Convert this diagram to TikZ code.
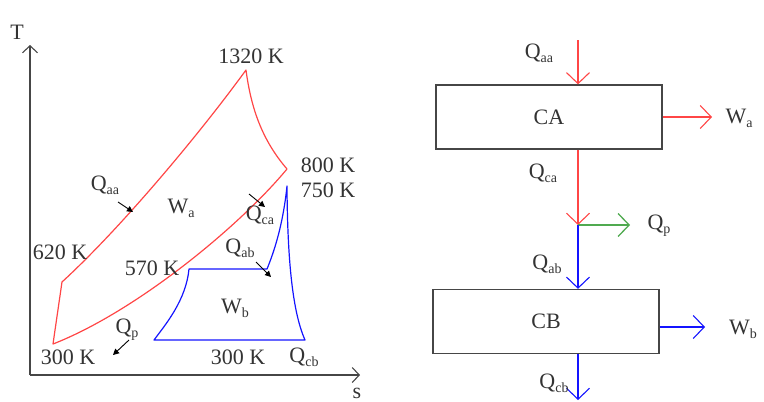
\documentclass[tikz,border=0pt]{standalone}
\usepackage{fontspec}
\setmainfont{Liberation Serif}
\usetikzlibrary{arrows.meta}
\newcommand\qs[2]{#1\raisebox{-0.4ex}{\fontsize{14}{14}\selectfont #2}}
\definecolor{cred}{RGB}{255,70,70}
\definecolor{cblue}{RGB}{20,20,255}
\definecolor{cgreen}{RGB}{80,170,80}
\definecolor{cgray}{RGB}{70,70,70}
\tikzset{
  lbl/.style={inner sep=0pt, font=\fontsize{22}{24}\selectfont, text=black!80},
  axisline/.style={cgray, line width=1.1pt, -{Straight Barb[length=7pt,width=15pt]}},
  redc/.style={cred, line width=1.2pt, line join=round},
  bluec/.style={cblue, line width=1.2pt, line join=round},
  smallarrow/.style={black, line width=0.9pt, -{Triangle[length=6pt,width=6pt]}},
  flowbox/.style={draw=cgray, line width=1.3pt, minimum width=226pt, minimum height=64pt, inner sep=0pt, font=\fontsize{22}{24}\selectfont, text=black!80},
  barb/.style={-{Straight Barb[length=11pt,width=23pt]}},
  redflow/.style={cred, line width=1.1pt},
  blueflow/.style={cblue, line width=1.1pt},
  greenflow/.style={cgreen, line width=1.3pt},
}
\begin{document}
\begin{tikzpicture}[x=1pt,y=-1pt]
\useasboundingbox (0,0) rectangle (764,402);
% axes
\coordinate (O) at (30,375);
\coordinate (Ttip) at (30,45);
\coordinate (stip) at (360,375);
\draw[axisline] (O) -- (Ttip);
\draw[axisline] (O) -- (stip);
\node[lbl] (T) at (17,32) {T};
\node[lbl] (s) at (357,393) {s};
% cycle A
\coordinate (A1) at (53,344);
\coordinate (A2) at (62,282);
\coordinate (A3) at (246,70);
\coordinate (A4) at (287,169);
\draw[redc] (A1) -- (A2) .. controls (122,227) and (201,132) .. (A3)
  .. controls (251,108) and (262,140) .. (A4)
  .. controls (238,228) and (135,312) .. (A1) -- cycle;
% cycle B
\coordinate (B1) at (154,340);
\coordinate (B2) at (189,269);
\coordinate (B3) at (267,269);
\coordinate (B4) at (287,186);
\coordinate (B5) at (305,340);
\draw[bluec] (B1) .. controls (166,324) and (186,300) .. (B2) -- (B3)
  .. controls (274,252) and (283,225) .. (B4)
  .. controls (287.5,270) and (294,315) .. (B5) -- cycle;
% labels on plot
\node[lbl] (k1320) at (251,56) {1320 K};
\node[lbl] (k800) at (328,165) {800 K};
\node[lbl] (k750) at (328,190) {750 K};
\node[lbl] (k620) at (60,252) {620 K};
\node[lbl] (k570) at (152,268) {570 K};
\node[lbl] (k300a) at (68,357) {300 K};
\node[lbl] (k300b) at (238,357) {300 K};
\node[lbl] (Qcb1) at (304,357) {\qs{Q}{cb}};
\node[lbl] (Qaa1) at (105,185) {\qs{Q}{aa}};
\node[lbl] (Wa1) at (181,208) {\qs{W}{a}};
\node[lbl] (Qca1) at (260,215) {\qs{Q}{ca}};
\node[lbl] (Qab1) at (240,248) {\qs{Q}{ab}};
\node[lbl] (Wb1) at (235,308) {\qs{W}{b}};
\node[lbl] (Qp1) at (127,330) {\qs{Q}{p}};
\coordinate (qa0) at (118,202);
\coordinate (qa1) at (133,212);
\coordinate (qc0) at (249,194);
\coordinate (qc1) at (265,207);
\coordinate (qb0) at (256,262);
\coordinate (qb1) at (271,277);
\coordinate (qp0) at (129,340);
\coordinate (qp1) at (113,355);
\draw[smallarrow] (qa0) -- (qa1);
\draw[smallarrow] (qc0) -- (qc1);
\draw[smallarrow] (qb0) -- (qb1);
\draw[smallarrow] (qp0) -- (qp1);
% right: flow diagram
\node[flowbox] (CA) at (549,117) {CA};
\node[flowbox] (CB) at (546,321.5) {CB};
\coordinate (top) at (578,40);
\coordinate (J) at (578,225);
\coordinate (Gend) at (630,225);
\coordinate (WAend) at (712,117);
\coordinate (WBend) at (705,327);
\coordinate (bot) at (578,400);
\draw[redflow,barb] (top) -- (top |- CA.north);
\draw[redflow,barb] (top |- CA.south) -- (J);
\draw[greenflow,barb] (J) -- (Gend);
\draw[blueflow,barb] (J) -- (top |- CB.north);
\draw[blueflow,barb] (top |- CB.south) -- (bot);
\draw[redflow,barb] (CA.east) -- (WAend);
\draw[blueflow,barb] (CB.east |- WBend) -- (WBend);
\node[lbl] (Qaa2) at (539,53) {\qs{Q}{aa}};
\node[lbl] (Wa2) at (739,118) {\qs{W}{a}};
\node[lbl] (Qca2) at (543,173) {\qs{Q}{ca}};
\node[lbl] (Qp2) at (659,226) {\qs{Q}{p}};
\node[lbl] (Qab2) at (547,264) {\qs{Q}{ab}};
\node[lbl] (Wb2) at (743,329) {\qs{W}{b}};
\node[lbl] (Qcb2) at (554,383) {\qs{Q}{cb}};
\end{tikzpicture}
\end{document}
